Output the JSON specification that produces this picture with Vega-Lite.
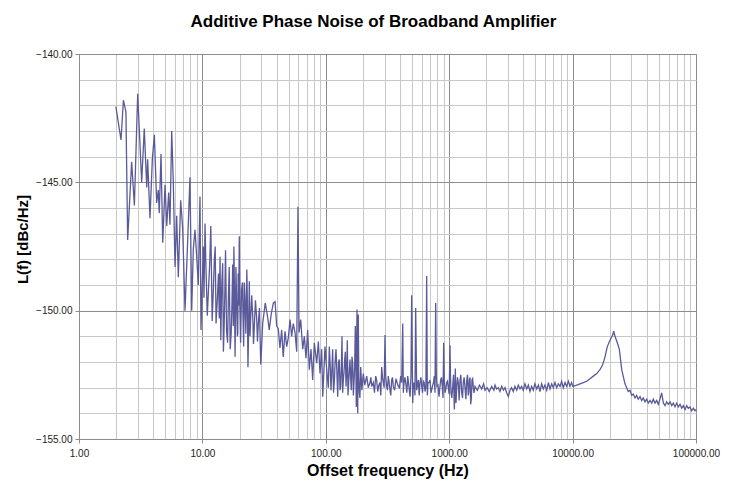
{
  "$schema": "https://vega.github.io/schema/vega-lite/v6.json",
  "width": 617,
  "height": 385,
  "autosize": {"type": "none"},
  "padding": {"left": 79, "top": 54, "right": 49, "bottom": 63},
  "background": "white",
  "title": {"text": "Additive Phase Noise of Broadband Amplifier", "frame": "group", "anchor": "middle", "dx": -14, "offset": 18, "font": "Liberation Sans", "fontSize": 17, "fontWeight": "bold", "color": "#000000"},
  "data": {"values": [
    {"f": 1.99, "L": -142.05}, {"f": 2.19, "L": -143.35}, {"f": 2.29, "L": -141.8}, {"f": 2.40, "L": -142.25},
    {"f": 2.48, "L": -147.25}, {"f": 2.67, "L": -144.2}, {"f": 2.81, "L": -145.9}, {"f": 2.99, "L": -141.55},
    {"f": 3.22, "L": -145.0}, {"f": 3.38, "L": -142.9}, {"f": 3.54, "L": -145.2}, {"f": 3.60, "L": -144.1},
    {"f": 3.76, "L": -146.4}, {"f": 3.93, "L": -144.1}, {"f": 4.08, "L": -143.15}, {"f": 4.26, "L": -145.8},
    {"f": 4.39, "L": -145.3}, {"f": 4.47, "L": -146.2}, {"f": 4.62, "L": -143.9}, {"f": 4.77, "L": -147.35},
    {"f": 4.98, "L": -145.1}, {"f": 5.14, "L": -146.7}, {"f": 5.33, "L": -145.4}, {"f": 5.46, "L": -146.65},
    {"f": 5.64, "L": -143.0}, {"f": 5.81, "L": -145.0}, {"f": 6.00, "L": -148.3}, {"f": 6.19, "L": -146.3},
    {"f": 6.38, "L": -148.7}, {"f": 6.67, "L": -145.7}, {"f": 6.92, "L": -146.8}, {"f": 7.23, "L": -150.0},
    {"f": 7.60, "L": -147.25}, {"f": 7.93, "L": -144.8}, {"f": 8.19, "L": -150.0}, {"f": 8.44, "L": -147.6},
    {"f": 8.71, "L": -146.85}, {"f": 8.99, "L": -147.9}, {"f": 9.26, "L": -149.0}, {"f": 9.56, "L": -145.55},
    {"f": 9.74, "L": -150.75}, {"f": 10.17, "L": -147.5}, {"f": 10.5, "L": -146.6}, {"f": 11.2, "L": -149.2},
    {"f": 11.7, "L": -146.7}, {"f": 12.3, "L": -149.05}, {"f": 12.7, "L": -147.5}, {"f": 12.9, "L": -150.5},
    {"f": 13.5, "L": -148.55}, {"f": 13.9, "L": -147.9}, {"f": 14.1, "L": -151.15}, {"f": 14.6, "L": -148.15},
    {"f": 15.0, "L": -150.6}, {"f": 15.4, "L": -147.65}, {"f": 16.0, "L": -151.25}, {"f": 16.5, "L": -148.3},
    {"f": 17.1, "L": -150.9}, {"f": 17.6, "L": -148.2}, {"f": 18.0, "L": -147.5}, {"f": 18.4, "L": -151.8},
    {"f": 18.7, "L": -148.3}, {"f": 19.2, "L": -151.0}, {"f": 19.5, "L": -148.55}, {"f": 19.9, "L": -147.1},
    {"f": 20.4, "L": -151.25}, {"f": 21.1, "L": -148.9}, {"f": 21.6, "L": -151.4}, {"f": 22.1, "L": -149.45},
    {"f": 22.9, "L": -148.4}, {"f": 23.4, "L": -152.2}, {"f": 24.0, "L": -148.85}, {"f": 24.6, "L": -150.35},
    {"f": 25.6, "L": -150.25}, {"f": 26.3, "L": -150.7}, {"f": 27.5, "L": -150.25}, {"f": 28.4, "L": -150.5},
    {"f": 29.7, "L": -152.1}, {"f": 30.8, "L": -150.5}, {"f": 32.3, "L": -149.7}, {"f": 33.8, "L": -150.25},
    {"f": 34.8, "L": -150.75}, {"f": 36.2, "L": -150.1}, {"f": 37.6, "L": -149.7}, {"f": 38.8, "L": -149.65},
    {"f": 40.0, "L": -150.6}, {"f": 41.2, "L": -150.7}, {"f": 42.5, "L": -151.45}, {"f": 43.9, "L": -150.75},
    {"f": 45.2, "L": -151.8}, {"f": 46.7, "L": -150.8}, {"f": 48.2, "L": -151.4}, {"f": 49.7, "L": -151.05},
    {"f": 51.3, "L": -150.35}, {"f": 52.9, "L": -151.0}, {"f": 54.5, "L": -150.5}, {"f": 56.3, "L": -150.85},
    {"f": 58.1, "L": -151.6}, {"f": 59.5, "L": -145.95}, {"f": 60.7, "L": -150.85}, {"f": 62.6, "L": -150.35},
    {"f": 65.0, "L": -151.5}, {"f": 67.0, "L": -151.0}, {"f": 69.1, "L": -151.85}, {"f": 71.3, "L": -150.75},
    {"f": 73.5, "L": -152.3}, {"f": 75.9, "L": -151.5}, {"f": 78.3, "L": -152.7}, {"f": 80.7, "L": -151.25},
    {"f": 84.4, "L": -152.05}, {"f": 87.0, "L": -151.2}, {"f": 89.8, "L": -152.45}, {"f": 92.6, "L": -151.5},
    {"f": 94.4, "L": -153.35}, {"f": 98.5, "L": -151.4}, {"f": 102.9, "L": -152.55}, {"f": 106.8, "L": -151.4},
    {"f": 110.2, "L": -153.1}, {"f": 113.7, "L": -151.5}, {"f": 117.2, "L": -152.8}, {"f": 121, "L": -151.5},
    {"f": 124.9, "L": -153.35}, {"f": 128.7, "L": -151.9}, {"f": 132.1, "L": -152.95}, {"f": 135.3, "L": -151.0},
    {"f": 138.7, "L": -152.7}, {"f": 142.3, "L": -151.9}, {"f": 145.8, "L": -152.95}, {"f": 149.4, "L": -151.15},
    {"f": 153.3, "L": -152.8}, {"f": 157.1, "L": -151.9}, {"f": 160.9, "L": -153.1}, {"f": 165.2, "L": -152.05},
    {"f": 169.2, "L": -152.8}, {"f": 173.4, "L": -150.6}, {"f": 176.7, "L": -153.75}, {"f": 179, "L": -149.95},
    {"f": 181.4, "L": -154.0}, {"f": 183.4, "L": -150.15}, {"f": 186.8, "L": -153.2}, {"f": 191.8, "L": -152.2},
    {"f": 201.3, "L": -152.45}, {"f": 214.5, "L": -152.55}, {"f": 228.2, "L": -152.8}, {"f": 235.5, "L": -152.95},
    {"f": 242.7, "L": -152.8}, {"f": 253.8, "L": -152.55}, {"f": 263.4, "L": -153.15}, {"f": 275, "L": -152.8},
    {"f": 283.8, "L": -152.2}, {"f": 292.4, "L": -152.8}, {"f": 301.8, "L": -150.95}, {"f": 311.5, "L": -152.95},
    {"f": 321, "L": -152.55}, {"f": 331.4, "L": -153.1}, {"f": 342, "L": -152.7}, {"f": 352.4, "L": -152.95},
    {"f": 370.7, "L": -152.65}, {"f": 386.8, "L": -152.95}, {"f": 404.6, "L": -152.55}, {"f": 420.1, "L": -150.5},
    {"f": 430.4, "L": -152.8}, {"f": 446.7, "L": -152.9}, {"f": 461, "L": -152.55}, {"f": 475, "L": -153.1},
    {"f": 490, "L": -152.55}, {"f": 496.6, "L": -149.4}, {"f": 506, "L": -153.6}, {"f": 521, "L": -152.8},
    {"f": 535, "L": -149.9}, {"f": 545, "L": -153.1}, {"f": 562, "L": -152.7}, {"f": 580, "L": -152.8},
    {"f": 599, "L": -152.95}, {"f": 617, "L": -152.75}, {"f": 637, "L": -153.15}, {"f": 657, "L": -148.65},
    {"f": 673, "L": -152.8}, {"f": 699, "L": -152.7}, {"f": 735, "L": -152.9}, {"f": 757, "L": -152.55},
    {"f": 777, "L": -149.7}, {"f": 796, "L": -152.95}, {"f": 827, "L": -153.35}, {"f": 853, "L": -152.7},
    {"f": 879, "L": -152.95}, {"f": 902, "L": -151.25}, {"f": 925, "L": -153.2}, {"f": 954, "L": -152.8},
    {"f": 983, "L": -153.0}, {"f": 1015, "L": -151.35}, {"f": 1034, "L": -153.2}, {"f": 1068, "L": -152.95},
    {"f": 1100, "L": -153.85}, {"f": 1121, "L": -152.25}, {"f": 1150, "L": -153.0}, {"f": 1185, "L": -152.8},
    {"f": 1224, "L": -152.7}, {"f": 1263, "L": -153.2}, {"f": 1301, "L": -152.8}, {"f": 1343, "L": -153.0},
    {"f": 1387, "L": -152.7}, {"f": 1428, "L": -153.3}, {"f": 1456, "L": -152.7}, {"f": 1494, "L": -153.65},
    {"f": 1530, "L": -152.7}, {"f": 1568, "L": -153.0}, {"f": 1619, "L": -152.95}, {"f": 1690, "L": -153.1},
    {"f": 1760, "L": -152.9}, {"f": 1834, "L": -153.05}, {"f": 1900, "L": -152.85}, {"f": 1951, "L": -153.1},
    {"f": 2030, "L": -153.0}, {"f": 2110, "L": -153.15}, {"f": 2211, "L": -152.95}, {"f": 2300, "L": -153.1},
    {"f": 2351, "L": -152.9}, {"f": 2420, "L": -153.05}, {"f": 2500, "L": -153.0}, {"f": 2580, "L": -153.15},
    {"f": 2664, "L": -152.95}, {"f": 2750, "L": -153.1}, {"f": 2833, "L": -153.0}, {"f": 2920, "L": -153.2},
    {"f": 3013, "L": -153.35}, {"f": 3110, "L": -153.1}, {"f": 3200, "L": -153.0}, {"f": 3307, "L": -153.15},
    {"f": 3410, "L": -152.95}, {"f": 3524, "L": -153.1}, {"f": 3630, "L": -152.9}, {"f": 3748, "L": -153.05},
    {"f": 3860, "L": -152.95}, {"f": 3986, "L": -153.1}, {"f": 4110, "L": -152.85}, {"f": 4246, "L": -153.05},
    {"f": 4380, "L": -152.9}, {"f": 4516, "L": -153.15}, {"f": 4660, "L": -152.95}, {"f": 4803, "L": -153.1},
    {"f": 4950, "L": -152.85}, {"f": 5118, "L": -153.05}, {"f": 5280, "L": -152.9}, {"f": 5443, "L": -153.15},
    {"f": 5610, "L": -152.85}, {"f": 5789, "L": -153.05}, {"f": 5970, "L": -152.9}, {"f": 6168, "L": -153.1},
    {"f": 6360, "L": -152.8}, {"f": 6560, "L": -153.05}, {"f": 6770, "L": -152.85}, {"f": 6976, "L": -153.0},
    {"f": 7200, "L": -152.8}, {"f": 7432, "L": -153.0}, {"f": 7660, "L": -152.85}, {"f": 7906, "L": -152.95},
    {"f": 8150, "L": -152.75}, {"f": 8408, "L": -153.0}, {"f": 8680, "L": -152.8}, {"f": 8960, "L": -152.95},
    {"f": 9240, "L": -152.75}, {"f": 9526, "L": -152.95}, {"f": 9800, "L": -152.8}, {"f": 10075, "L": -152.95},
    {"f": 10795, "L": -152.9}, {"f": 11482, "L": -152.85}, {"f": 12210, "L": -152.8}, {"f": 13013, "L": -152.75},
    {"f": 13836, "L": -152.65}, {"f": 14716, "L": -152.55}, {"f": 15680, "L": -152.45}, {"f": 16672, "L": -152.3},
    {"f": 17535, "L": -152.1}, {"f": 18307, "L": -151.8}, {"f": 19107, "L": -151.4}, {"f": 20098, "L": -151.15},
    {"f": 21135, "L": -150.95}, {"f": 21533, "L": -150.8}, {"f": 22060, "L": -151.0}, {"f": 23030, "L": -151.25},
    {"f": 23905, "L": -151.5}, {"f": 25003, "L": -152.3}, {"f": 26584, "L": -152.85}, {"f": 27400, "L": -153.0},
    {"f": 28278, "L": -153.15}, {"f": 29200, "L": -153.1}, {"f": 30130, "L": -153.3}, {"f": 31000, "L": -153.25},
    {"f": 32040, "L": -153.4}, {"f": 33000, "L": -153.3}, {"f": 34070, "L": -153.45}, {"f": 35200, "L": -153.35},
    {"f": 36308, "L": -153.5}, {"f": 37400, "L": -153.4}, {"f": 38610, "L": -153.55}, {"f": 39800, "L": -153.45},
    {"f": 41060, "L": -153.6}, {"f": 42400, "L": -153.5}, {"f": 43752, "L": -153.6}, {"f": 45100, "L": -153.45},
    {"f": 46520, "L": -153.6}, {"f": 48000, "L": -153.5}, {"f": 49480, "L": -153.65}, {"f": 51000, "L": -153.45},
    {"f": 52723, "L": -153.2}, {"f": 54400, "L": -153.6}, {"f": 56080, "L": -153.7}, {"f": 57800, "L": -153.55},
    {"f": 59640, "L": -153.65}, {"f": 61600, "L": -153.55}, {"f": 63560, "L": -153.7}, {"f": 65500, "L": -153.6},
    {"f": 67580, "L": -153.75}, {"f": 69700, "L": -153.6}, {"f": 71880, "L": -153.75}, {"f": 74200, "L": -153.65},
    {"f": 76580, "L": -153.8}, {"f": 79000, "L": -153.7}, {"f": 81440, "L": -153.85}, {"f": 84000, "L": -153.7},
    {"f": 86610, "L": -153.8}, {"f": 89400, "L": -153.75}, {"f": 92300, "L": -153.9}, {"f": 95200, "L": -153.8},
    {"f": 98150, "L": -153.9}, {"f": 100000, "L": -153.85},
    {"f": 10.3, "L": -149.5}, {"f": 10.65, "L": -148.0}, {"f": 10.95, "L": -150.2}, {"f": 11.45, "L": -148.2},
    {"f": 12.0, "L": -150.4}, {"f": 12.5, "L": -148.0}, {"f": 13.2, "L": -149.6}, {"f": 13.7, "L": -150.3},
    {"f": 14.35, "L": -149.0}, {"f": 14.8, "L": -151.6}, {"f": 15.2, "L": -149.3}, {"f": 15.7, "L": -150.8},
    {"f": 16.25, "L": -149.5}, {"f": 16.8, "L": -151.5}, {"f": 17.35, "L": -149.8}, {"f": 17.8, "L": -150.6},
    {"f": 18.2, "L": -149.4}, {"f": 18.55, "L": -150.2}, {"f": 18.95, "L": -149.6}, {"f": 19.35, "L": -150.9},
    {"f": 19.7, "L": -149.8}, {"f": 20.15, "L": -150.0}, {"f": 20.75, "L": -149.2}, {"f": 21.35, "L": -150.3},
    {"f": 21.85, "L": -148.9}, {"f": 22.5, "L": -150.9}, {"f": 23.15, "L": -149.6}, {"f": 23.7, "L": -150.7},
    {"f": 24.3, "L": -151.0}, {"f": 25.1, "L": -149.4}, {"f": 25.95, "L": -151.3}, {"f": 26.9, "L": -149.6},
    {"f": 27.95, "L": -151.2}, {"f": 29.0, "L": -149.9}, {"f": 30.2, "L": -151.4},
    {"f": 100.5, "L": -152.0}, {"f": 104.8, "L": -153.0}, {"f": 108.5, "L": -152.1}, {"f": 112, "L": -152.3},
    {"f": 115.5, "L": -153.2}, {"f": 119, "L": -152.0}, {"f": 123, "L": -152.4}, {"f": 126.8, "L": -152.0},
    {"f": 130.4, "L": -153.1}, {"f": 133.7, "L": -152.2}, {"f": 137, "L": -153.2}, {"f": 140.5, "L": -152.4},
    {"f": 144, "L": -151.6}, {"f": 147.6, "L": -152.4}, {"f": 151.3, "L": -153.3}, {"f": 155.2, "L": -152.3},
    {"f": 159, "L": -152.6}, {"f": 163, "L": -151.8}, {"f": 167.2, "L": -153.3}, {"f": 171.3, "L": -152.2},
    {"f": 175, "L": -152.0}, {"f": 177.8, "L": -151.3}, {"f": 180.2, "L": -152.8}, {"f": 182.4, "L": -151.5},
    {"f": 185, "L": -152.6}, {"f": 189, "L": -153.4},
    {"f": 196, "L": -153.1}, {"f": 207, "L": -152.9}, {"f": 221, "L": -153.0}, {"f": 232, "L": -152.6},
    {"f": 248, "L": -153.2}, {"f": 258, "L": -152.7}, {"f": 269, "L": -152.9}, {"f": 279, "L": -153.3},
    {"f": 288, "L": -152.6}, {"f": 297, "L": -153.0}, {"f": 306, "L": -152.6}, {"f": 316, "L": -153.1},
    {"f": 326, "L": -152.8}, {"f": 336, "L": -153.3}, {"f": 347, "L": -152.6}, {"f": 361, "L": -153.1},
    {"f": 378, "L": -152.8}, {"f": 395, "L": -153.0}, {"f": 412, "L": -152.8}, {"f": 425, "L": -153.2},
    {"f": 438, "L": -152.6}, {"f": 454, "L": -153.2}, {"f": 468, "L": -152.8}, {"f": 482, "L": -153.35},
    {"f": 512, "L": -152.9}, {"f": 528, "L": -153.3}, {"f": 553, "L": -152.9}, {"f": 571, "L": -153.3},
    {"f": 590, "L": -152.6}, {"f": 608, "L": -153.2}, {"f": 627, "L": -152.8}, {"f": 647, "L": -153.0},
    {"f": 665, "L": -153.3}, {"f": 686, "L": -152.8}, {"f": 712, "L": -153.2}, {"f": 746, "L": -152.8},
    {"f": 767, "L": -153.2}, {"f": 787, "L": -152.6}, {"f": 811, "L": -152.9}, {"f": 840, "L": -153.0},
    {"f": 866, "L": -152.6}, {"f": 891, "L": -153.4}, {"f": 913, "L": -152.7}, {"f": 940, "L": -153.05},
    {"f": 968, "L": -152.75}, {"f": 999, "L": -153.25},
    {"f": 1025, "L": -152.6}, {"f": 1050, "L": -153.4}, {"f": 1084, "L": -152.5}, {"f": 1110, "L": -153.3},
    {"f": 1135, "L": -153.6}, {"f": 1167, "L": -152.6}, {"f": 1204, "L": -153.5}, {"f": 1243, "L": -152.5},
    {"f": 1282, "L": -153.4}, {"f": 1322, "L": -152.6}, {"f": 1365, "L": -153.45}, {"f": 1407, "L": -152.5},
    {"f": 1442, "L": -153.15}, {"f": 1475, "L": -152.6}, {"f": 1512, "L": -153.4}, {"f": 1549, "L": -152.65},
    {"f": 1590, "L": -153.2}
  ]},
  "mark": {"type": "line", "color": "#5a5a9a", "strokeWidth": 1.3, "clip": true},
  "encoding": {
    "x": {
      "field": "f", "type": "quantitative", "sort": "ascending",
      "scale": {"type": "log", "domain": [1, 100000], "nice": false},
      "axis": {
        "title": "Offset frequency (Hz)",
        "values": [1,2,3,4,5,6,7,8,9,10,20,30,40,50,60,70,80,90,100,200,300,400,500,600,700,800,900,1000,2000,3000,4000,5000,6000,7000,8000,9000,10000,20000,30000,40000,50000,60000,70000,80000,90000,100000],
        "labelExpr": "indexof([1,10,100,1000,10000,100000], datum.value) >= 0 ? format(datum.value, '.2f') : ''",
        "labelOverlap": false,
        "labelFlush": false,
        "grid": true,
        "gridColor": {"condition": {"test": "indexof([1,10,100,1000,10000,100000], datum.value) >= 0", "value": "#8c8c8c"}, "value": "#c8c8c8"},
        "tickOpacity": {"condition": {"test": "indexof([1,10,100,1000,10000,100000], datum.value) >= 0", "value": 1}, "value": 0},
        "tickSize": 4,
        "tickColor": "#8c8c8c",
        "domainColor": "#8c8c8c",
        "labelFont": "Liberation Sans",
        "labelFontSize": 10,
        "labelColor": "#222222",
        "labelPadding": 5,
        "titleFont": "Liberation Sans",
        "titleFontSize": 16,
        "titleFontWeight": "bold",
        "titleColor": "#000000",
        "titlePadding": 4
      }
    },
    "y": {
      "field": "L", "type": "quantitative",
      "scale": {"domain": [-155, -140], "nice": false, "zero": false},
      "axis": {
        "title": "L(f) [dBc/Hz]",
        "values": [-155,-154,-153,-152,-151,-150,-149,-148,-147,-146,-145,-144,-143,-142,-141,-140],
        "labelExpr": "datum.value % 5 == 0 ? format(datum.value, '.2f') : ''",
        "labelOverlap": false,
        "labelFlush": false,
        "grid": true,
        "gridColor": {"condition": {"test": "datum.value % 5 == 0", "value": "#8c8c8c"}, "value": "#c8c8c8"},
        "tickOpacity": {"condition": {"test": "datum.value % 5 == 0", "value": 1}, "value": 0},
        "tickSize": 4,
        "tickColor": "#8c8c8c",
        "domainColor": "#8c8c8c",
        "labelFont": "Liberation Sans",
        "labelFontSize": 10,
        "labelColor": "#222222",
        "labelPadding": 3,
        "titleFont": "Liberation Sans",
        "titleFontSize": 15,
        "titleFontWeight": "bold",
        "titleColor": "#000000",
        "titlePadding": 5,
        "titleY": 185
      }
    }
  },
  "config": {"view": {"stroke": "#8c8c8c", "strokeWidth": 1}}
}
